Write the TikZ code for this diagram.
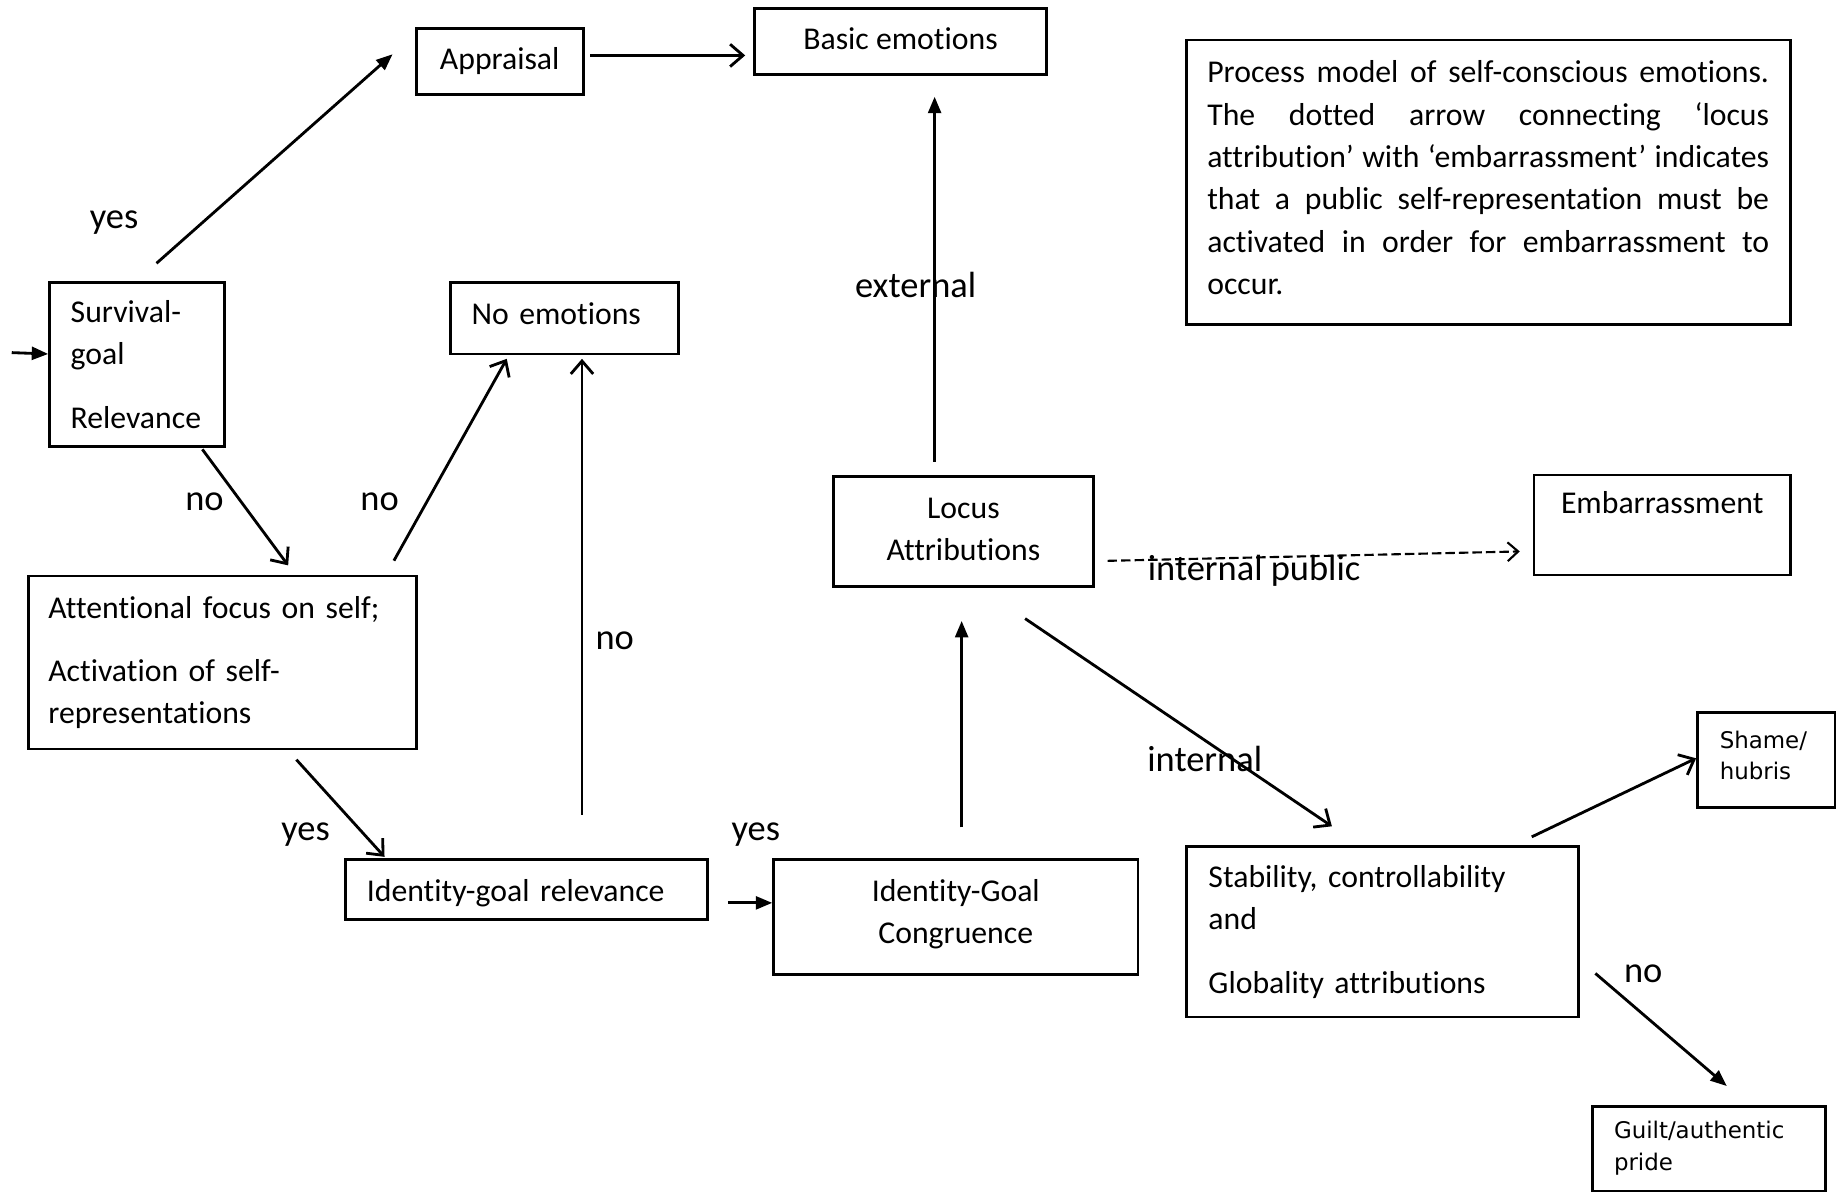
\documentclass[tikz,border=0pt]{standalone}
\usepackage{fontspec}
\setmainfont{Carlito}[Ligatures=NoCommon]
\newfontfamily\widesans{DejaVu Sans}
\usetikzlibrary{arrows.meta,calc}
\hyphenpenalty=10000
\exhyphenpenalty=10000
% invisible struts that lower the bottom (or raise the top) of a text block
\newcommand{\lowstrut}[1]{\rule[-#1]{0pt}{#1}}
\newcommand{\highstrut}[1]{\rule{0pt}{#1}}
\begin{document}
\begin{tikzpicture}[x=1pt,y=-1pt,
  box/.style={draw, line width=2.3pt, rectangle, inner sep=0pt, anchor=north west,
    font=\fontsize{27}{36}\selectfont},
  lbox/.style={box, align=left, inner xsep=#1},
  cbox/.style={box, align=center},
  wbox/.style={box, align=left, inner xsep=#1,
    font=\widesans\fontsize{19.5}{27}\selectfont},
  lab/.style={anchor=base, inner sep=0pt, font=\fontsize{31}{36}\selectfont},
  conn/.style={line width=2.4pt},
  filled/.style={conn, -{Triangle[length=14pt,width=11pt]}},
  open/.style={conn, -{Straight Barb[length=11pt,width=19pt]}},
  dashedlink/.style={line width=1.8pt, dash pattern=on 8pt off 3.5pt,
    -{Straight Barb[length=9pt,width=16pt,line width=1.8pt]}},
]
\useasboundingbox (0,0) rectangle (1568,1014);

% ---- boxes ----
\node[cbox, minimum width=142pt, minimum height=56pt] (appr) at (353,23) {Appraisal};
\node[cbox, minimum width=248pt, minimum height=56pt] (bas) at (641,6) {Basic emotions\lowstrut{4pt}};
\node[box, align=justify, inner xsep=18pt, text width=478pt, minimum height=242pt] (note) at (1008,33)
  {Process model of self-conscious emotions.\linebreak
   The dotted arrow connecting ‘locus\linebreak
   attribution’ with ‘embarrassment’ indicates\linebreak
   that a public self-representation must be\linebreak
   activated in order for embarrassment to\linebreak
   occur.\lowstrut{8pt}};
\node[lbox=18pt, text width=113pt, minimum height=140pt] (surv) at (41,239)
  {Survival-\\goal\\[18pt]Relevance};
\node[lbox=18pt, text width=158pt, minimum height=61pt] (noemo) at (382,239) {No emotions\lowstrut{8pt}};
\node[cbox, minimum width=221pt, minimum height=94pt] (loc) at (708,404) {Locus\\Attributions\lowstrut{4pt}};
\node[cbox, minimum width=218pt, minimum height=85pt, text height=19pt, text depth=38pt,
  inner ysep=14pt] (emb) at (1304,403) {Embarrassment};
\node[lbox=17pt, text width=296pt, minimum height=147pt] (att) at (23,489)
  {Attentional focus on self;\\[18pt]Activation of self-\\representations};
\node[lbox=18pt, text width=272pt, minimum height=51pt] (idg) at (293,730) {\highstrut{25pt}Identity-goal relevance};
\node[cbox, minimum width=310pt, minimum height=98pt] (cong) at (657,730) {Identity-Goal\\Congruence\lowstrut{9.5pt}};
\node[lbox=19pt, text width=296pt, minimum height=145pt] (stab) at (1008,719)
  {Stability, controllability\\and\\[18pt]Globality attributions};
\node[wbox=19pt, text width=79pt, minimum height=81pt] (shame) at (1443,605) {Shame/\\hubris\lowstrut{8pt}};
\node[wbox=18pt, text width=162pt, minimum height=72pt] (guilt) at (1354,940) {Guilt/authentic\\pride};

% ---- connectors ----
\coordinate (entry) at (10,300);
\draw[filled] (entry) -- ($(surv.west)+(0,-9)$);
\draw[filled] ($(surv.north)+(16.5,-15)$) -- ($(appr.west)+(-19,-6)$);
\draw[open] ($(appr.east)+(5,-5)$) -- ($(bas.west)+(-7,12)$);
\draw[filled] ($(loc.north)+(-24.5,-11)$) -- ($(bas.south)+(29,18)$);
\draw[open] ($(surv.south)+(55.5,1)$) -- ($(att.north)+(56,-8)$);
\draw[open] ($(att.north)+(146,-12)$) -- ($(noemo.south)+(-49,3)$);
\draw[open] ($(idg.north)+(47,-37)$) -- ($(noemo.south)+(15,3)$);
\draw[open] ($(att.south)+(63,8)$) -- ($(idg.north)+(-121,-1)$);
\draw[filled] ($(idg.east)+(16,11.5)$) -- ($(cong.west)+(0,-12)$);
\draw[filled] ($(cong.north)+(5,-26)$) -- ($(loc.south)+(-1.5,28)$);
\draw[dashedlink] ($(loc.east)+(11,25)$) -- ($(emb.west)+(-11,22.5)$);
\draw[open] ($(loc.south)+(52.5,26)$) -- ($(stab.north)+(-43,-16)$);
\draw[open] ($(stab.north)+(127,-7)$) -- ($(shame.west)+(0,-1.5)$);
\draw[filled] ($(stab.east)+(13,35.5)$) -- ($(guilt.north)+(15,-16)$);

% ---- connector labels ----
\node[lab] (l-yes1) at (97,194) {yes};
\node[lab] (l-no1) at (174,434) {no};
\node[lab] (l-no2) at (323,434) {no};
\node[lab] (l-no3) at (523,553) {no};
\node[lab] (l-ext) at (779,253) {external};
\node[lab] (l-yes2) at (260,715) {yes};
\node[lab] (l-yes3) at (643,715) {yes};
\node[lab] (l-intpub) at (1067,494) {internal public};
\node[lab] (l-int) at (1025,656) {internal};
\node[lab] (l-no4) at (1398,836) {no};
\end{tikzpicture}
\end{document}
